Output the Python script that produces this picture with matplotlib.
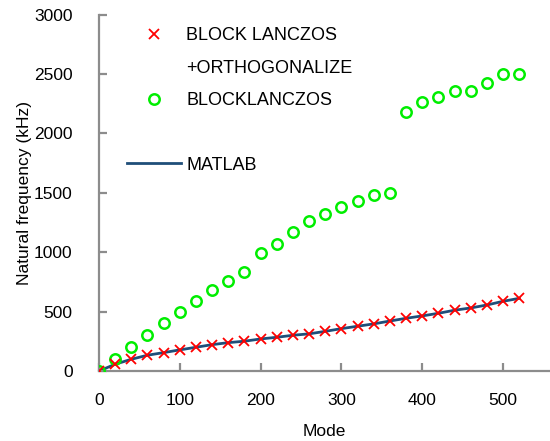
import matplotlib.pyplot as plt
from matplotlib.lines import Line2D

# mode numbers (every 20th mode)
modes = [0, 20, 40, 60, 80, 100, 120, 140, 160, 180, 200, 220, 240, 260,
         280, 300, 320, 340, 360, 380, 400, 420, 440, 460, 480, 500, 520]

# natural frequencies in kHz
block_lanczos_orth = [0, 57, 99, 133, 155, 178, 200, 222, 239, 251, 270, 284, 301, 313,
                      334, 357, 377, 397, 421, 444, 464, 486, 512, 531, 556, 587, 612]
block_lanczos = [0, 100, 205, 304, 402, 500, 593, 680, 756, 834, 994, 1070, 1173, 1263,
                 1325, 1384, 1429, 1482, 1502, 2178, 2265, 2310, 2358, 2360, 2428, 2503, 2503]
matlab = [0, 57, 99, 133, 155, 178, 200, 222, 239, 251, 270, 284, 301, 313,
          334, 357, 377, 397, 421, 444, 464, 486, 512, 531, 556, 587, 612]

plt.rcParams['font.family'] = ['Liberation Sans', 'DejaVu Sans']
plt.rcParams['font.size'] = 12.5

fig = plt.figure(figsize=(5.5, 4.41), dpi=100)
ax = fig.add_axes([0.18, 0.1587, 0.82, 0.808])

ax.plot(modes, matlab, color='#1f4e79', lw=2, zorder=2)
ax.plot(modes, block_lanczos, 'o', mfc='none', mec='#00ee00', mew=1.8, ms=7.5, zorder=3)
ax.plot(modes, block_lanczos_orth, 'x', color='#ff0000', mew=1.3, ms=7, zorder=4)

ax.set_xlim(0, 558)
ax.set_ylim(0, 3000)
ax.set_xticks([0, 100, 200, 300, 400, 500])
ax.set_yticks([0, 500, 1000, 1500, 2000, 2500, 3000])

for side in ['top', 'right']:
    ax.spines[side].set_visible(False)
for side in ['left', 'bottom']:
    ax.spines[side].set_color('#8c8c8c')
    ax.spines[side].set_linewidth(1.6)
ax.tick_params(axis='both', direction='in', length=6, width=1.6, color='#8c8c8c')
ax.tick_params(axis='x', pad=16)
ax.tick_params(axis='y', pad=19)

ax.set_xlabel('Mode', labelpad=11)
ax.set_ylabel('Natural frequency (kHz)', labelpad=1)

blank = Line2D([], [], linestyle='none', marker=None)
handles = [
    Line2D([], [], linestyle='none', marker='x', color='#ff0000', mew=1.3, ms=7),
    blank,
    Line2D([], [], linestyle='none', marker='o', mfc='none', mec='#00ee00', mew=1.8, ms=7.5),
    blank,
    Line2D([], [], color='#1f4e79', lw=2),
]
labels = ['BLOCK LANCZOS', '+ORTHOGONALIZE', 'BLOCKLANCZOS', '', 'MATLAB']
fig.legend(handles, labels, loc='upper left', bbox_to_anchor=(0.23, 0.938),
           frameon=False, fontsize=13, handlelength=3.0, handletextpad=0.3,
           labelspacing=0.85, borderpad=0, borderaxespad=0)

fig.savefig('out.png', dpi=100)
